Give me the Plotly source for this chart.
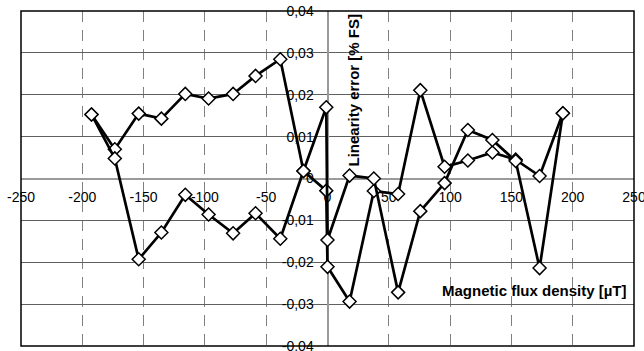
import plotly.graph_objects as go

# Magnetic flux density [µT]
x_vals = [-192.5, -173.5, -154, -135.5, -116, -97, -77, -58.7, -38.5, -19.6,
          -1, 0, 18, 37.8, 57.6, 75.7, 95.5, 114.5, 134.5, 153.5, 173, 192]

# Linearity error [% FS]
series_a = [0.0153, 0.0070, 0.0155, 0.0143, 0.0202, 0.0191, 0.0202, 0.0245, 0.0285, 0.0018,
            -0.0029, -0.0211, -0.0294, -0.0030, -0.0037, 0.0211, 0.0028, 0.0043, 0.0062, 0.0045,
            0.0006, 0.0156]
series_b = [0.0153, 0.0048, -0.0193, -0.0129, -0.0039, -0.0086, -0.0131, -0.0083, -0.0144, 0.0018,
            0.0170, -0.0147, 0.0007, 0.0000, -0.0272, -0.0078, -0.0011, 0.0116, 0.0092, 0.0042,
            -0.0214, 0.0156]

x_ticks = [-250, -200, -150, -100, -50, 0, 50, 100, 150, 200, 250]
x_tick_labels = ["-250", "-200", "-150", "-100", "-50", "0", "50", "100", "150", "200", "250"]
y_ticks = [-0.04, -0.03, -0.02, -0.01, 0, 0.01, 0.02, 0.03, 0.04]
y_tick_labels = ["-0,04", "-0,03", "-0,02", "-0,01", "0", "0,01", "0,02", "0,03", "0,04"]

FONT = "Liberation Sans, Arial, sans-serif"

fig = go.Figure()
for ys in (series_a, series_b):
    fig.add_trace(go.Scatter(
        x=x_vals, y=ys, mode="lines+markers",
        line=dict(color="black", width=2.7),
        marker=dict(symbol="diamond", size=10, color="white",
                    line=dict(color="black", width=1.5)),
        showlegend=False, cliponaxis=False,
    ))

fig.update_layout(
    width=644, height=351,
    margin=dict(l=21, r=10, t=11, b=5, autoexpand=False),
    paper_bgcolor="white", plot_bgcolor="white",
    font=dict(family=FONT, size=14, color="black"),
    xaxis=dict(
        range=[-250.01, 250.01], anchor="free", position=0.5, automargin=False,
        tickvals=x_ticks, ticktext=x_tick_labels, ticks="",
        ticklabelstandoff=6, ticklabeloverflow="allow",
        showgrid=True, gridcolor="#808080", gridwidth=1, griddash="11px,8px",
        showline=True, linecolor="#9a9a9a", linewidth=2,
        zeroline=False, layer="below traces",
        tickfont=dict(family=FONT, size=14, color="black"),
    ),
    yaxis=dict(
        range=[-0.04001, 0.04001], anchor="free", position=0.5, automargin=False,
        tickvals=y_ticks, ticktext=y_tick_labels, ticks="",
        ticklabelstandoff=10, ticklabeloverflow="allow",
        showgrid=True, gridcolor="#606060", gridwidth=1,
        showline=True, linecolor="#9a9a9a", linewidth=2,
        zeroline=False, layer="below traces",
        tickfont=dict(family=FONT, size=14, color="black"),
    ),
    shapes=[dict(type="rect", xref="paper", yref="paper", x0=0, x1=1, y0=0, y1=1,
                 line=dict(color="black", width=1.5), layer="above")],
    annotations=[
        dict(text="<b>Linearity error [% FS]</b>", textangle=-90,
             xref="paper", yref="paper", x=(353 - 21) / 613, y=1,
             xanchor="center", yanchor="top", yshift=-1, showarrow=False,
             font=dict(family=FONT, size=15, color="black")),
        dict(text="<b>Magnetic flux density [µT]</b>",
             xref="paper", yref="paper", x=(534 - 21) / 613, y=(346 - 290) / 335,
             xanchor="center", yanchor="middle", showarrow=False,
             font=dict(family=FONT, size=15, color="black")),
    ],
)

fig.write_html("out.html", config={"displayModeBar": False},
               post_script="document.body.style.margin='0';document.body.style.overflow='hidden';")
